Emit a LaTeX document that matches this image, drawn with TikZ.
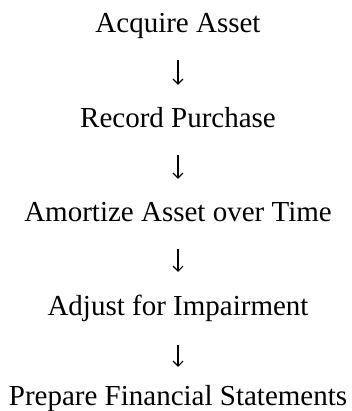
\documentclass[tikz,border=0pt]{standalone}
\usepackage{fontspec}
\setmainfont{Liberation Serif}
\usetikzlibrary{arrows.meta}
\begin{document}
\begin{tikzpicture}[x=1pt,y=1pt,
  steptext/.style={anchor=base, inner sep=0pt, text height=20pt, text depth=7pt,
    font=\fontsize{29}{34}\selectfont},
  flowarrow/.style={line width=1.1pt, shorten <=20pt, shorten >=23pt,
    -{Straight Barb[length=5pt,width=10pt,line width=1.1pt]}}]
  \useasboundingbox (0,0) rectangle (352,-411);
  \node[steptext] (s1) at (178,-33) {Acquire Asset};
  \node[steptext] (s2) at (178,-128) {Record Purchase};
  \node[steptext] (s3) at (178,-222) {Amortize Asset over Time};
  \node[steptext] (s4) at (178,-315) {Adjust for Impairment};
  \node[steptext] (s5) at (178,-405) {Prepare Financial Statements};
  \draw[flowarrow] (s1.south) -- (s2.north);
  \draw[flowarrow] (s2.south) -- (s3.north);
  \draw[flowarrow] (s3.south) -- (s4.north);
  \draw[flowarrow,shorten <=23pt,shorten >=18pt] (s4.south) -- (s5.north);
\end{tikzpicture}
\end{document}
